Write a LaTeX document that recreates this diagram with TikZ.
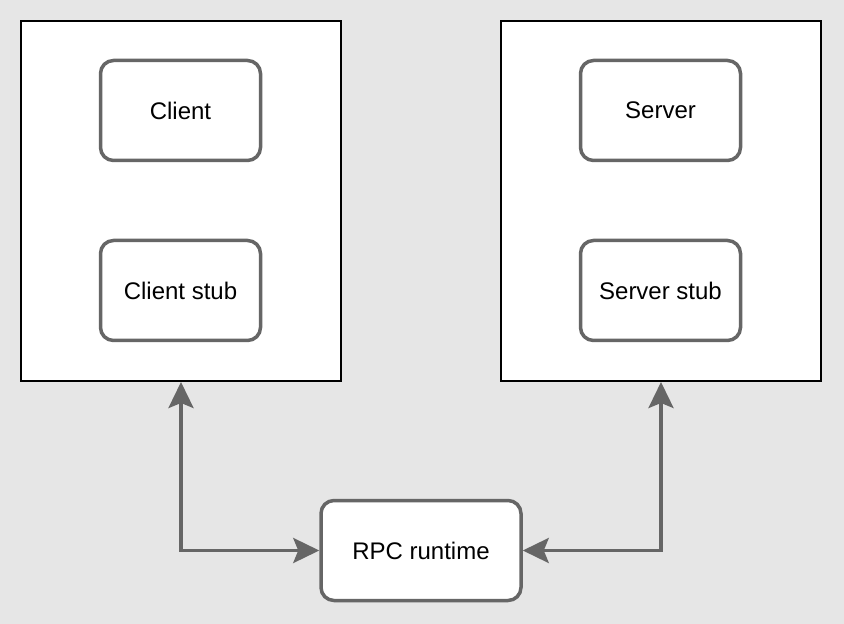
\documentclass[tikz,border=0pt]{standalone}
\usepackage{fontspec}
\setmainfont{Liberation Sans}
\usetikzlibrary{arrows.meta, positioning}
\definecolor{bggray}{HTML}{E6E6E6}
\definecolor{linegray}{HTML}{666666}

\begin{document}
\begin{tikzpicture}[x=0.5pt, y=-0.5pt,
    every node/.style={font=\fontsize{12pt}{14pt}\selectfont},
    hostbox/.style={draw=black, fill=white, line width=1pt, minimum width=160pt, minimum height=180pt, inner sep=0pt},
    partbox/.style={draw=linegray, fill=white, line width=1.75pt, rounded corners=6.5pt, minimum width=80pt, minimum height=50pt, inner sep=0pt},
    link/.style={draw=linegray, line width=1.75pt, {Stealth[length=13pt, width=12.5pt, inset=2.5pt]}-{Stealth[length=13pt, width=12.5pt, inset=2.5pt]}}]
	\fill[bggray] (0,0) rectangle (844,624);
	\useasboundingbox (0,0) rectangle (844,624);

	% the two hosts
	\node[hostbox] (clienthost) at (181,201) {};
	\node[hostbox] (serverhost) at (661,201) {};

	\node[partbox] (client) at (180.5,110.5) {Client};
	\node[partbox] (clientstub) at (180.5,290.5) {Client stub};

	\node[partbox] (server) at (660.5,110.5) {Server};
	\node[partbox] (serverstub) at (660.5,290.5) {Server stub};

	% runtime in between
	\node[partbox, minimum width=100pt] (runtime) at (421,550.5) {RPC runtime};

	\draw[link] (clienthost.south) |- (runtime.west);
	\draw[link] (serverhost.south) |- (runtime.east);

\end{tikzpicture}
\end{document}
